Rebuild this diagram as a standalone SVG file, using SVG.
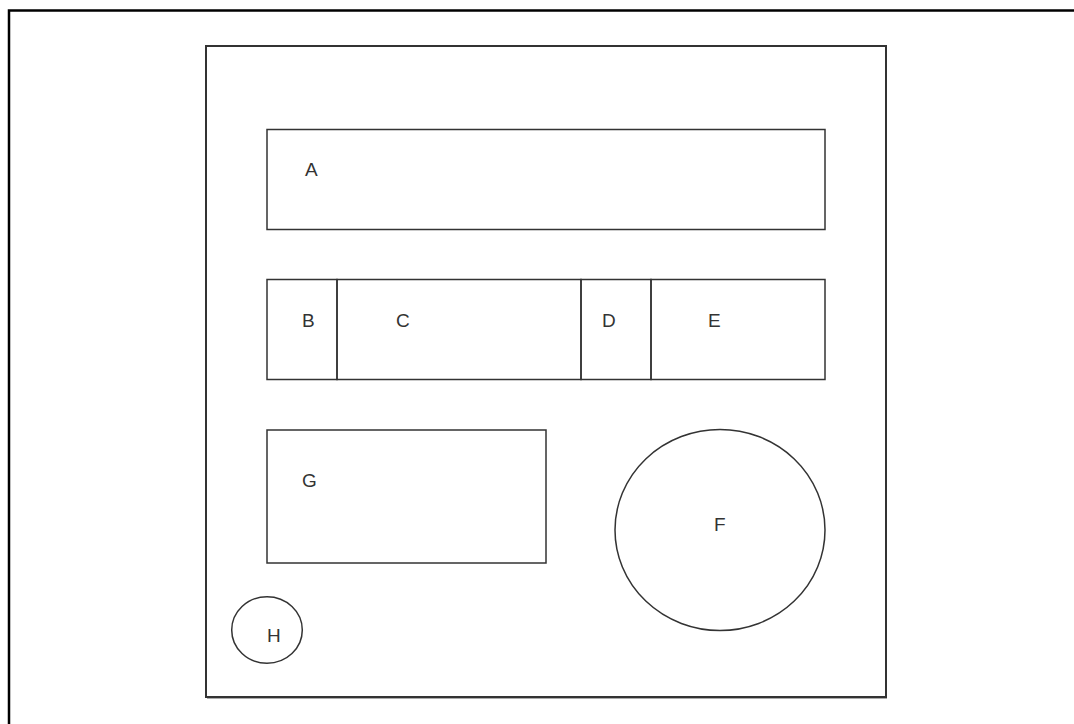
<svg xmlns="http://www.w3.org/2000/svg" width="1074" height="724" viewBox="0 0 1074 724">
<style>
.frame{fill:none;stroke:#000;stroke-width:2.5}
.pkg{fill:none;stroke:#333;stroke-width:2}
.shape{fill:none;stroke:#333;stroke-width:1.5}
.lbl{font-family:"Liberation Sans",Arial,sans-serif;font-size:19px;fill:#333}
</style>
<rect width="1074" height="724" fill="#fff"/>
<path class="frame" d="M9,726 V10.5 H1076"/>
<g id="package">
<line x1="207" y1="698.5" x2="887" y2="698.5" stroke="#aaa" stroke-width="1"/>
<rect class="pkg" x="206" y="46" width="680" height="651"/>
</g>
<g id="A"><rect class="shape" x="267" y="129.5" width="558" height="100"/><text class="lbl" x="305" y="176">A</text></g>
<g id="B"><rect class="shape" x="267" y="279.5" width="70" height="100"/><text class="lbl" x="302" y="326.5">B</text></g>
<g id="C"><rect class="shape" x="337" y="279.5" width="244" height="100"/><text class="lbl" x="396" y="326.5">C</text></g>
<g id="D"><rect class="shape" x="581" y="279.5" width="70" height="100"/><text class="lbl" x="602" y="326.5">D</text></g>
<g id="E"><rect class="shape" x="651" y="279.5" width="174" height="100"/><text class="lbl" x="708" y="326.5">E</text></g>
<g id="G"><rect class="shape" x="267" y="430" width="279" height="133"/><text class="lbl" x="302" y="487">G</text></g>
<g id="F"><ellipse class="shape" cx="720" cy="530" rx="105" ry="100.5"/><text class="lbl" x="714" y="531">F</text></g>
<g id="H"><ellipse class="shape" cx="267" cy="630" rx="35.3" ry="33.3"/><text class="lbl" x="267" y="642">H</text></g>
<g id="connectors"/>
</svg>
